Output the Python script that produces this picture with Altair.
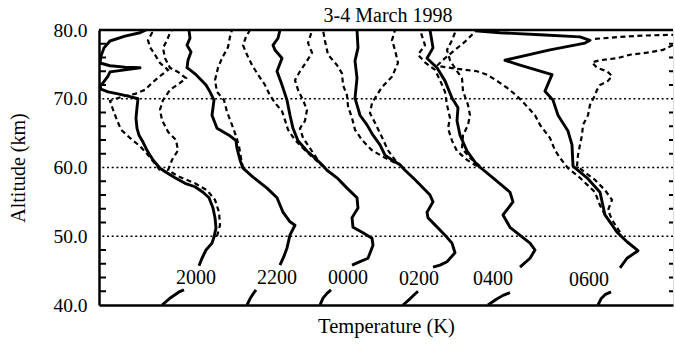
import altair as alt
import pandas as pd

# ---- profile data: (temperature offset, altitude km) ----
s2000 = [(99.5,45.7),(101,46.8),(103,48.0),(106,49.0),(107,49.9),(108,51.2),(107.5,52.7),(106.5,54.1),(104.5,55.6),(101.5,56.4),(97.5,57.2),(92.5,57.7),(87.5,58.5),(83,59.3),(80,59.9),(76.5,61.1),(73.5,62.5),(71.5,63.7),(69.5,64.7),(68.5,65.7),(68,67.2),(68.5,68.7),(69,70.0),(65,70.3),(59,70.7),(54,71.0),(50.5,71.4),(50,71.9),(51.5,72.3),(54,73.3),(55,73.9),(62.5,74.2),(70,74.5),(62.5,74.6),(55,74.8),(50,75.2),(50.5,76.2),(52,77.4),(55,78.4),(62.5,79.1),(70,79.6),(73,80.0)]
d2000a = [(108.5,50.0),(110,51.6),(109.5,53.5),(107.5,55.3),(103.5,56.7),(97.5,57.7),(90,58.6),(84,59.6),(86,61.1),(89,62.5),(88,64.0),(84,65.2),(81,66.9),(80,68.4),(81.5,69.8),(85,71.3),(90,72.3),(93,73.0),(89,73.9),(85,74.5),(82.5,75.9),(81.5,77.4),(83.5,78.5),(85,79.6),(86,80.0)]
d2000b = [(80,59.6),(75,61.5),(70,63.1),(65,64.3),(60.5,65.5),(58.5,66.9),(56.5,68.4),(55,69.7),(61,70.3),(67.5,70.7),(72.5,71.3),(76,72.3),(80,73.3),(84,74.2),(80,75.2),(77.5,76.4),(75,77.5),(74,78.5),(76,79.6),(75,80.0)]

s2200 = [(140,45.8),(142,47.1),(143.5,48.3),(145,50.2),(147.5,51.6),(145,52.1),(141.5,53.5),(138.5,55.6),(133.5,57.0),(126.5,58.6),(121.5,59.9),(120,61.1),(118.5,62.8),(118,63.9),(114.5,64.7),(108.5,65.7),(106,67.6),(107,69.8),(105,71.0),(103,72.0),(98,73.5),(95,74.2),(93.5,74.5),(94,75.6),(95.5,76.8),(93.5,77.8),(95,78.8),(94.5,80.0)]
d2200 = [(121.5,59.9),(120.5,61.4),(119.5,63.1),(118,64.6),(116,66.2),(113.5,68.1),(112,69.8),(108.5,71.0),(107.5,72.7),(109,74.5),(111,75.9),(114,77.5),(115,79.0),(116,80.0)]

s0000 = [(176,45.8),(180,46.3),(184,46.8),(186.5,48.7),(186,49.7),(181.5,50.5),(176.5,51.3),(176,52.7),(179,54.1),(178.5,55.6),(173.5,57.0),(168.5,58.5),(163.5,59.6),(161,60.4),(158.5,61.1),(153.5,62.4),(149,63.9),(146.5,65.7),(145,67.6),(143.5,69.8),(141,72.0),(138.5,74.0),(141,75.9),(137.5,77.1),(136.5,77.8),(139,78.8),(140,80.0)]
d0000a = [(159,60.8),(152.5,62.5),(147.5,64.0),(144,65.5),(142.5,66.9),(141,68.2),(137.5,69.4),(135,70.5),(132.5,72.0),(129,73.5),(126,74.9),(123.5,76.4),(121.5,77.8),(123,79.0),(125,80.0)]
d0000b = [(161,60.2),(155,62.8),(151.5,64.3),(150,65.7),(152.5,66.8),(153.5,68.4),(151.5,69.8),(149,71.3),(147.5,72.7),(150,74.0),(153.5,75.5),(156,76.7),(154,78.1),(156,79.9)]

s0200 = [(216.5,45.5),(220,45.8),(223.5,46.3),(227.5,47.6),(226,49.0),(223,50.0),(220,50.9),(217,51.8),(214,52.7),(213.5,53.5),(216.5,55.0),(215,56.0),(210,57.5),(206.5,58.5),(202.5,59.6),(200,60.4),(196,61.1),(192.5,61.8),(190,63.3),(186.5,64.7),(183.5,66.2),(180,67.6),(177.5,70.1),(178.5,73.0),(177.5,75.5),(179,77.4),(178.5,80.0)]
d0200a = [(197.5,60.7),(192.5,61.4),(186,62.5),(181,64.0),(177.5,65.5),(176,67.2),(174,68.9),(173.5,70.5),(171.5,72.0),(171,73.7),(168.5,74.9),(164,76.4),(162.5,78.4),(161.5,80.0)]
d0200b = [(201,60.1),(197.5,61.1),(194,62.5),(191,64.4),(187.5,66.5),(185,67.9),(186,69.4),(188,70.3),(191,71.7),(196,73.2),(199,75.2),(197.5,77.1),(196,78.5),(197.5,80.0)]

s0400 = [(260,45.5),(265,46.8),(267.5,48.0),(265,49.0),(261,49.9),(255,51.3),(251.5,53.1),(256.5,55.0),(255,56.4),(246.5,58.5),(238.5,60.4),(233.5,62.4),(230,64.7),(228.5,66.8),(229,68.7),(226,70.1),(222.5,72.6),(218.5,74.5),(213.5,75.9),(216.5,77.4),(215,80.0)]
d0400a = [(238.5,60.2),(233.5,61.1),(228.5,62.4),(226,63.9),(224,65.7),(225,67.2),(223.5,69.1),(222.5,71.0),(220,72.7),(217.5,74.2),(212.5,75.3),(209,76.4),(212.5,77.8),(210,80.0)]
d0400b = [(240,60.2),(235,61.4),(231,62.8),(231.5,64.7),(234,66.2),(235,67.6),(234,69.1),(231.5,71.1),(231,73.0),(228,74.2),(225,75.6),(223.5,77.1),(226,78.5),(228,80.0)]

s0600 = [(310,45.4),(313.5,46.8),(319,47.9),(313.5,49.2),(308.5,50.6),(302.5,53.1),(300,56.4),(293.5,58.5),(286.5,60.2),(286,63.3),(284,65.3),(279,67.6),(276.5,69.8),(272.5,71.1),(276,73.5),(260,74.9),(252.5,75.6),(275,77.1),(292.5,78.1),(295,78.5),(290,79.0),(270,79.3),(250,79.6),(237.5,79.9)]
d0600a = [(310,50.6),(306,52.4),(304,53.8),(306,55.3),(302.5,56.7),(297.5,58.2),(292.5,59.3),(288.5,60.2),(289,61.8),(290,63.3),(291,64.7),(291.5,66.2),(294,67.6),(295,69.1),(297.5,70.5),(298.5,71.3),(300,72.0),(304,72.6),(306,73.3),(303.5,74.0),(298.5,74.5),(296,75.3),(300,75.6),(308.5,75.9),(315,76.4),(323.5,76.7),(331.5,77.1),(336.5,77.8)]
d0600b = [(297.5,78.7),(310,79.0),(322.5,79.2),(336.5,79.3)]
d0600c = [(302.5,53.1),(300,54.5),(297.5,56.4),(290,58.5),(284,59.9),(280,61.4),(277.5,62.5),(275,64.3),(270,66.2),(267.5,67.6),(262.5,69.2),(258.5,70.4),(253.5,71.6),(248.5,72.6),(243.5,73.5),(238.5,74.0),(230,74.3),(222.5,74.6),(218.5,74.8),(222.5,75.9),(227.5,77.1),(232.5,78.3),(236,79.3),(238,80.0)]

# short lower segments near 40 km
b2000 = [(81,40.0),(85.5,41.1),(89.5,41.9),(92,42.2)]
b2200 = [(123.5,40.0),(125,40.9),(126.5,41.6),(128,42.2)]
b0000 = [(160,40.0),(161.5,41.0),(163.5,41.7),(165.5,42.2)]
b0200 = [(201.5,40.0),(205,40.9),(207.5,41.6),(209,42.0)]
b0400 = [(244,40.0),(248,40.8),(251.5,41.4),(255,41.8)]
b0600 = [(299,40.0),(300.5,40.9),(302.5,41.5),(305.5,41.9)]

# time labels
label_text = ["2000", "2200", "0000", "0200", "0400", "0600"]
label_T = [98, 138.5, 174, 209.5, 246.5, 294.5]
label_alt = [43.9, 43.9, 43.9, 43.8, 43.8, 43.7]

title_text = "3-4 March 1998"

grid_alts = [50, 60, 70]
tick_alts = [42, 44, 46, 48, 52, 54, 56, 58, 62, 64, 66, 68, 72, 74, 76, 78]

solid = {"s2000": s2000, "s2200": s2200, "s0000": s0000, "s0200": s0200,
         "s0400": s0400, "s0600": s0600,
         "b2000": b2000, "b2200": b2200, "b0000": b0000, "b0200": b0200,
         "b0400": b0400, "b0600": b0600}
dashed = {"d2000a": d2000a, "d2000b": d2000b, "d2200": d2200,
          "d0000a": d0000a, "d0000b": d0000b, "d0200a": d0200a,
          "d0200b": d0200b, "d0400a": d0400a, "d0400b": d0400b,
          "d0600a": d0600a, "d0600b": d0600b, "d0600c": d0600c}


def table(d):
    rows = []
    for name, pts in d.items():
        for i, (t, a) in enumerate(pts):
            rows.append({"line": name, "i": i, "T": t, "alt": a})
    return pd.DataFrame(rows)


solid_df = table(solid)
dashed_df = table(dashed)
labels_df = pd.DataFrame({"label": label_text, "T": label_T, "alt": label_alt})
grid_df = pd.DataFrame({"alt": grid_alts})
ticks_df = pd.DataFrame({"alt": tick_alts})
top_df = pd.DataFrame({"alt": [80]})
title_df = pd.DataFrame({"title": [title_text]})

FONT = "Liberation Serif"

xs = alt.Scale(domain=[49.5, 336.5], nice=False, zero=False)
ys = alt.Scale(domain=[40, 80], nice=False, zero=False)

x_enc = alt.X("T:Q", scale=xs, axis=alt.Axis(
    title="Temperature (K)", labels=False, ticks=False, grid=False,
    domainWidth=2.5, domainColor="black", titleFont=FONT, titleFontSize=20.5,
    titleFontWeight="normal", titleColor="black", titleBaseline="alphabetic",
    titlePadding=27))
y_enc = alt.Y("alt:Q", scale=ys, axis=alt.Axis(
    title="Altitude (km)", values=[40, 50, 60, 70, 80], format=".1f",
    ticks=False, grid=False, domainWidth=2.5, domainColor="black",
    labelFont=FONT, labelFontSize=19.5, labelColor="black", labelPadding=12,
    titleFont=FONT, titleFontSize=20, titleFontWeight="normal",
    titleColor="black", titlePadding=24))

solid_layer = alt.Chart(solid_df).mark_line(
    color="black", strokeWidth=2.9, clip=True, strokeJoin="round"
).encode(x=x_enc, y=y_enc, detail="line:N", order="i:Q")

dashed_layer = alt.Chart(dashed_df).mark_line(
    color="black", strokeWidth=2.2, strokeDash=[5, 3.5], clip=True
).encode(x=x_enc, y=y_enc, detail="line:N", order="i:Q")

grid_layer = alt.Chart(grid_df).mark_rule(
    color="black", strokeWidth=1.7, strokeDash=[2, 2.7]
).encode(y=y_enc)

top_layer = alt.Chart(top_df).mark_rule(color="black", strokeWidth=2.5).encode(y=y_enc)

lticks = alt.Chart(ticks_df).mark_rule(color="black", strokeWidth=2).encode(
    y=y_enc, x=alt.value(0), x2=alt.value(7))
rticks = alt.Chart(ticks_df).mark_rule(color="black", strokeWidth=2).encode(
    y=y_enc, x=alt.value(570), x2=alt.value(574))

text_layer = alt.Chart(labels_df).mark_text(
    font=FONT, fontSize=20, color="black", baseline="middle", align="center"
).encode(x=x_enc, y=y_enc, text="label:N")

title_layer = alt.Chart(title_df).mark_text(
    font=FONT, fontSize=20, color="black", baseline="alphabetic", align="center"
).encode(x=alt.value(289), y=alt.value(-8), text="title:N")

chart = alt.layer(
    grid_layer, top_layer, lticks, rticks, dashed_layer, solid_layer,
    text_layer, title_layer
).properties(
    width=574, height=275,
    autosize=alt.AutoSizeParams(type="none"),
    padding={"left": 99, "top": 30, "right": 2, "bottom": 39},
).configure_view(stroke=None).configure(background="white")

chart.save("out.html", embed_options={"renderer": "svg", "actions": False})
